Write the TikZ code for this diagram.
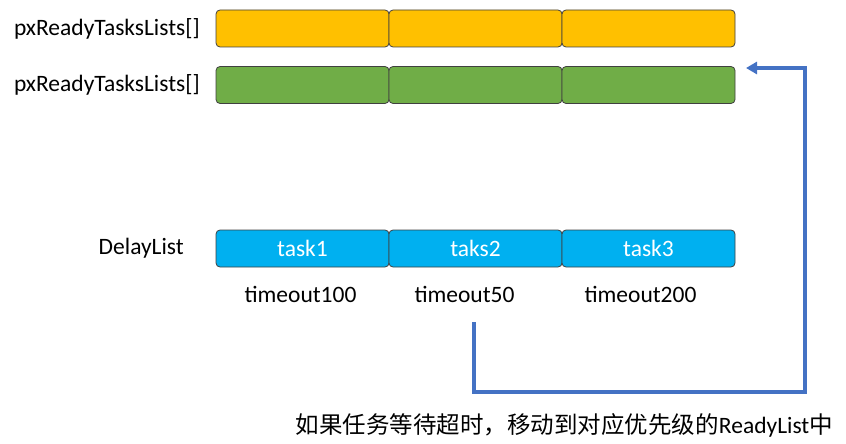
\documentclass[tikz,border=0pt]{standalone}
\usepackage{fontspec}
\setmainfont{Carlito}
\newfontfamily\cjk{Noto Sans CJK SC}
\usetikzlibrary{positioning,arrows.meta}

\definecolor{readyorange}{HTML}{FFC000}
\definecolor{readygreen}{HTML}{70AD47}
\definecolor{delayblue}{HTML}{00B0F0}
\definecolor{flowblue}{HTML}{4472C4}

\tikzset{
    cell/.style={draw=black!75, line width=0.8pt, rounded corners=4pt,
        minimum width=173pt, minimum height=37pt, inner sep=0pt, outer sep=0pt,
        text=white, font=\fontsize{23.5}{26}\selectfont},
    lab/.style={inner sep=0pt, font=\fontsize{23.5}{26}\selectfont},
    flow/.style={draw=flowblue, line width=3.2pt, -{Triangle[length=11pt,width=12pt]}}
}

\begin{document}
\begin{tikzpicture}[x=1pt,y=-1pt]
    \useasboundingbox (0,0) rectangle (846,444);

    % ready lists
    \node[cell, fill=readyorange] (r1) at (302.5,28.5) {};
    \node[cell, fill=readyorange, right=0pt of r1] (r2) {};
    \node[cell, fill=readyorange, right=0pt of r2] (r3) {};
    \node[cell, fill=readygreen] (g1) at (302.5,85) {};
    \node[cell, fill=readygreen, right=0pt of g1] (g2) {};
    \node[cell, fill=readygreen, right=0pt of g2] (g3) {};
    \node[lab, left=16pt of r1] (rl1) {pxReadyTasksLists[]};
    \node[lab, left=16pt of g1] (rl2) {pxReadyTasksLists[]};

    % delay list
    \node[cell, fill=delayblue] (d1) at (302.5,248.5) {task1};
    \node[cell, fill=delayblue, right=0pt of d1] (d2) {taks2};
    \node[cell, fill=delayblue, right=0pt of d2] (d3) {task3};
    \node[lab, left=32pt of d1] (dl) {DelayList};
    \node[lab, below=19pt of d1, xshift=-2pt] (t1) {timeout100};
    \node[lab, below=19pt of d2, xshift=-11pt] (t2) {timeout50};
    \node[lab, below=19pt of d3, xshift=-8pt] (t3) {timeout200};

    % timeout -> ready list
    \coordinate (start) at (474,322);
    \coordinate (bend) at (805,392);
    \coordinate (tip) at (746,68);
    \draw[flow] (start) |- (bend) |- (tip);
    \node[lab, anchor=east] (note) at (833,425)
        {{\cjk 如果任务等待超时，移动到对应优先级的}ReadyList{\cjk 中}};
\end{tikzpicture}
\end{document}
